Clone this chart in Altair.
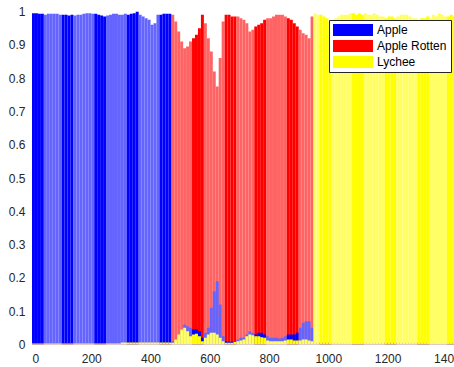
import altair as alt
import pandas as pd

# sample index (bins of 10 samples)
X = list(range(0, 1450, 10))
SERIES = ["Apple", "Apple Rotten", "Lychee"]

# Apple probability per bin
APPLE = (
    # 0 .. 460
    [0.995, 0.995, 0.993, 0.993, 0.99, 0.993, 0.993, 0.993, 0.993, 0.99,
     0.99, 0.99, 0.988, 0.99, 0.988, 0.99, 0.99, 0.993, 0.995, 0.995,
     0.993, 0.993, 0.99, 0.988, 0.985, 0.988, 0.99, 0.993, 0.993, 0.99,
     0.99, 0.993, 0.99, 0.993, 0.995, 1.0, 0.99, 0.985, 0.98, 0.975,
     0.96, 0.965, 0.99, 0.99, 0.993, 0.993, 0.993]
    # 470 .. 940
    + [0.01, 0.015, 0.025, 0.045, 0.06, 0.055, 0.05, 0.045, 0.045, 0.04,
       0.02, 0.035, 0.05, 0.11, 0.16, 0.19, 0.12, 0.025, 0.01, 0.008,
       0.008, 0.01, 0.015, 0.02, 0.02, 0.03, 0.04, 0.035, 0.03, 0.035,
       0.035, 0.03, 0.025, 0.02, 0.02, 0.02, 0.018, 0.02, 0.025, 0.03,
       0.03, 0.03, 0.035, 0.05, 0.065, 0.07, 0.07, 0.05]
    # 950 .. 1440
    + [0.005] * 50
)

# Apple Rotten probability per bin
ROTTEN = (
    [0.004] * 47
    + [0.99, 0.97, 0.94, 0.91, 0.89, 0.895, 0.91, 0.92, 0.93, 0.95,
       0.99, 0.965, 0.92, 0.88, 0.82, 0.775, 0.86, 0.97, 0.99, 0.99,
       0.985, 0.985, 0.985, 0.98, 0.975, 0.965, 0.94, 0.945, 0.955, 0.96,
       0.965, 0.975, 0.98, 0.98, 0.985, 0.99, 0.99, 0.99, 0.985, 0.98,
       0.975, 0.965, 0.955, 0.945, 0.935, 0.93, 0.92, 0.985]
    + [0.005] * 50
)

# Lychee probability per bin
LYCHEE = (
    [0.003] * 30 + [0.006] * 17
    + [0.005, 0.015, 0.03, 0.045, 0.05, 0.04, 0.025, 0.03, 0.032, 0.025,
       0.01, 0.02, 0.03, 0.035, 0.035, 0.03, 0.02, 0.01, 0.005, 0.005,
       0.005, 0.008, 0.01, 0.012, 0.015, 0.025, 0.03, 0.028, 0.025, 0.025,
       0.022, 0.02, 0.012, 0.01, 0.01, 0.01, 0.01, 0.01, 0.012, 0.015,
       0.015, 0.012, 0.012, 0.012, 0.015, 0.015, 0.012, 0.01]
    + [0.995, 0.99, 0.99, 0.985, 0.98, 0.97, 0.975, 0.98, 0.985, 0.99,
       0.99, 0.99, 0.995, 0.995, 0.99, 0.995, 0.99, 0.995, 0.99, 0.99,
       0.995, 0.99, 0.985, 0.985, 0.98, 0.985, 0.985, 0.98, 0.985, 0.99,
       0.99, 0.99, 0.985, 0.98, 0.98, 0.975, 0.98, 0.98, 0.985, 0.98,
       0.99, 0.985, 0.995, 0.99, 0.985, 0.985, 0.99, 0.985, 1.0, 1.0]
)

X_TICKS = [0, 200, 400, 600, 800, 1000, 1200, 1400]
Y_TICKS = [0, 0.1, 0.2, 0.3, 0.4, 0.5, 0.6, 0.7, 0.8, 0.9, 1]

rows = []
for name, vals in zip(SERIES, [APPLE, ROTTEN, LYCHEE]):
    for xv, v in zip(X, vals):
        rows.append({"x": xv, "value": v, "series": name})
df = pd.DataFrame(rows)

FONT = "Liberation Sans"
color_scale = alt.Scale(
    domain=["Apple", "Apple Rotten", "Lychee", "Apple~", "Apple Rotten~", "Lychee~"],
    range=["#0000FF", "#FF0000", "#FFFF00", "#6464FF", "#FF6464", "#FFFF64"],
)
legend = alt.Legend(
    title=None,
    orient="none",
    legendX=297,
    legendY=8.5,
    values=SERIES,
    symbolType="M-1,-1H5.667V1H-1Z",
    symbolSize=144,
    symbolStrokeWidth=0,
    symbolOpacity=1,
    labelFont=FONT,
    labelFontSize=12,
    labelColor="#000000",
    labelOffset=32,
    padding=4,
    rowPadding=4,
    strokeColor="#262626",
    fillColor="white",
    cornerRadius=0,
)

base = alt.Chart(df).transform_calculate(
    x2="datum.x + 10",
    key="((datum.x + 9) % 108.3) < 40 ? datum.series : datum.series + '~'",
)


def layer(name):
    return base.transform_filter(alt.datum.series == name).mark_bar(clip=True).encode(
        x=alt.X(
            "x:Q",
            scale=alt.Scale(domain=[0, 1424], nice=False, zero=True),
            axis=alt.Axis(values=X_TICKS, format="d", labelPadding=9, title=None),
        ),
        x2="x2:Q",
        y=alt.Y(
            "value:Q",
            stack=None,
            scale=alt.Scale(domain=[0, 1], nice=False),
            axis=alt.Axis(values=Y_TICKS, format="~g", labelPadding=7, title=None),
        ),
        y2=alt.datum(0),
        color=alt.Color("key:N", scale=color_scale, legend=legend),
    )


chart = alt.layer(layer("Apple Rotten"), layer("Apple"), layer("Lychee")).properties(
    width=422,
    height=333,
    autosize=alt.AutoSizeParams(type="none"),
    padding={"left": 32, "top": 11.5, "right": 0, "bottom": 22.5},
).configure_view(stroke=None).configure_axis(
    domain=False,
    ticks=False,
    tickSize=0,
    grid=False,
    labelFont=FONT,
    labelFontSize=12,
    labelColor="#262626",
)

chart.save("out.html", embed_options={"renderer": "svg", "actions": False})
